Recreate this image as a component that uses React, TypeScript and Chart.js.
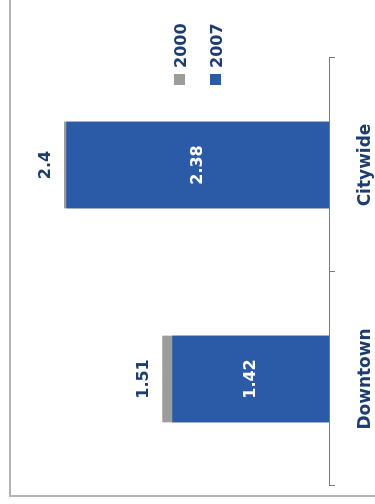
import React, { useEffect, useRef } from "react";
import { Chart, registerables } from "chart.js";

Chart.register(...registerables);

const categories = ["Downtown", "Citywide"];
const seriesNames = ["2000", "2007"];
const values2000 = [1.51, 2.4];
const values2007 = [1.42, 2.38];
const labels2000 = ["1.51", "2.4"];
const labels2007 = ["1.42", "2.38"];

const GRAY = "#9c9c9c";
const BLUE = "#2b5ba7";
const NAVY = "#1d3c70";
const AXIS = "#7a7a7a";
const FONT = "'DejaVu Sans', sans-serif";

const valueLabelPlugin = {
  id: "valueLabels",
  afterDatasetsDraw(chart: any) {
    const ctx = chart.ctx;
    ctx.save();
    ctx.font = `bold 16px ${FONT}`;
    ctx.textAlign = "center";
    ctx.textBaseline = "middle";
    const m0 = chart.getDatasetMeta(0);
    m0.data.forEach((el: any, i: number) => {
      ctx.fillStyle = NAVY;
      ctx.fillText(labels2000[i], el.x, el.y - 18);
    });
    const m1 = chart.getDatasetMeta(1);
    m1.data.forEach((el: any, i: number) => {
      ctx.fillStyle = "#ffffff";
      ctx.fillText(labels2007[i], el.x, (el.y + el.base) / 2);
    });
    ctx.restore();
  },
};

const legendPlugin = {
  id: "customLegend",
  afterDraw(chart: any) {
    const ctx = chart.ctx;
    const area = chart.chartArea;
    const colors = [GRAY, BLUE];
    ctx.save();
    ctx.font = `bold 16px ${FONT}`;
    ctx.textAlign = "left";
    ctx.textBaseline = "middle";
    seriesNames.forEach((name, i) => {
      const cy = area.top + 127 + i * 36;
      ctx.fillStyle = colors[i];
      ctx.fillRect(area.right - 27, cy - 6, 11, 11);
      ctx.fillStyle = NAVY;
      ctx.fillText(name, area.right - 10, cy + 2);
    });
    ctx.restore();
  },
};

export default function App() {
  const ref = useRef<HTMLCanvasElement | null>(null);

  useEffect(() => {
    if (!ref.current) return;
    const chart = new Chart(ref.current, {
      type: "bar",
      data: {
        labels: categories,
        datasets: [
          {
            label: seriesNames[0],
            data: values2000,
            backgroundColor: GRAY,
            order: 2,
            grouped: false,
            categoryPercentage: 1,
            barPercentage: 0.405,
          } as any,
          {
            label: seriesNames[1],
            data: values2007,
            backgroundColor: BLUE,
            order: 1,
            grouped: false,
            categoryPercentage: 1,
            barPercentage: 0.405,
          } as any,
        ],
      },
      options: {
        responsive: false,
        animation: false,
        layout: { padding: { left: 18, right: 58, top: 53, bottom: 0 } },
        scales: {
          x: {
            grid: {
              display: true,
              drawOnChartArea: false,
              tickLength: 6,
              color: AXIS,
              offset: true,
            },
            border: { display: true, color: AXIS, width: 1 },
            ticks: {
              color: NAVY,
              padding: 20,
              font: { family: FONT, size: 17, weight: "bold" },
            },
            afterFit: (scale: any) => {
              scale.height = 46;
            },
          },
          y: { display: false, min: 0, max: 2.5 },
        },
        plugins: {
          legend: { display: false },
          tooltip: { enabled: false },
        },
      },
      plugins: [valueLabelPlugin, legendPlugin],
    });
    return () => chart.destroy();
  }, []);

  return (
    <div
      style={{
        position: "absolute",
        left: 0,
        top: 0,
        width: 375,
        height: 504,
        overflow: "hidden",
        background: "#ffffff",
      }}
    >
      <div
        style={{
          position: "absolute",
          left: 0,
          top: 0,
          width: 504,
          height: 375,
          transformOrigin: "0 0",
          transform: "translate(0px, 504px) rotate(-90deg)",
          background: "#ffffff",
        }}
      >
        <div
          style={{
            position: "absolute",
            left: 7,
            top: 9,
            width: 700,
            height: 700,
            border: "2px solid #b3b3b3",
            boxSizing: "border-box",
          }}
        />
        <canvas
          ref={ref}
          width={504}
          height={375}
          style={{ position: "absolute", left: 0, top: 0, width: 504, height: 375 }}
        />
      </div>
    </div>
  );
}
